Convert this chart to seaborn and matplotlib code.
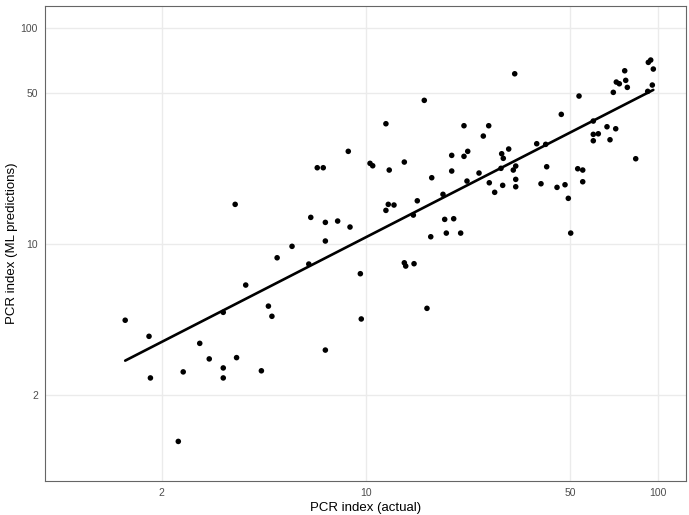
import numpy as np
import pandas as pd
import matplotlib
matplotlib.use("Agg")
import matplotlib.pyplot as plt
import matplotlib.ticker as mticker
import seaborn as sns

# PCR index values
pcr_actual = [
    1.50, 1.81, 1.83, 2.28, 2.37, 2.70, 2.91, 3.25, 3.25, 3.25,
    3.57, 3.61, 3.88, 4.39, 4.64, 4.77, 4.97, 5.59, 6.38, 6.48,
    6.82, 7.15, 7.27, 7.27, 7.27, 8.01, 8.71, 8.83, 9.58, 9.65,
    10.34, 10.56, 11.72, 11.72, 11.94, 12.03, 12.49, 13.55, 13.55, 13.70,
    14.55, 14.63, 15.01, 15.86, 16.20, 16.69, 16.82, 18.38, 18.63, 18.87,
    19.69, 19.69, 20.00, 21.13, 21.69, 21.69, 22.21, 22.34, 24.42, 25.26,
    26.36, 26.48, 27.63, 29.04, 29.20, 29.43, 29.57, 30.86, 32.00, 32.36,
    32.62, 32.62, 32.62, 38.49, 39.81, 41.31, 41.64, 45.17, 46.72, 48.11,
    49.38, 50.32, 53.18, 53.73, 55.32, 55.32, 60.13, 60.13, 60.13, 62.55,
    66.99, 68.60, 70.41, 71.76, 72.10, 73.83, 77.03, 77.65, 78.63, 84.02,
    92.35, 92.80, 94.56, 95.76, 96.52,
]
pcr_predicted = [
    4.44, 3.74, 2.40, 1.22, 2.56, 3.47, 2.94, 4.83, 2.67, 2.40,
    15.27, 2.98, 6.46, 2.59, 5.16, 4.63, 8.64, 9.76, 8.08, 13.29,
    22.56, 22.56, 12.60, 10.33, 3.23, 12.78, 26.87, 11.99, 7.29, 4.50,
    23.64, 23.04, 36.06, 14.32, 15.27, 22.01, 15.16, 23.97, 8.19, 7.91,
    13.62, 8.11, 15.86, 46.27, 5.04, 10.81, 20.28, 16.99, 13.01, 11.24,
    25.74, 21.78, 13.10, 11.24, 25.47, 35.30, 19.57, 26.87, 21.32, 31.62,
    35.30, 19.22, 17.36, 22.42, 26.19, 18.70, 24.94, 27.54, 22.01, 61.42,
    22.97, 19.93, 18.42, 29.14, 19.02, 28.95, 22.80, 18.30, 39.85, 18.82,
    16.28, 11.24, 22.32, 48.44, 22.01, 19.43, 37.11, 32.20, 30.08, 32.40,
    34.92, 30.40, 50.39, 34.18, 56.23, 55.22, 63.42, 57.26, 53.14, 24.83,
    50.93, 69.37, 71.10, 54.47, 64.60,
]
tick_values = [2, 10, 50, 100]

df = pd.DataFrame({"actual": pcr_actual, "predicted": pcr_predicted})

# linear fit on log-log scale (like geom_smooth(method = "lm") with log10 axes)
slope, intercept = np.polyfit(np.log10(df["actual"]), np.log10(df["predicted"]), 1)
fit_x = np.linspace(df["actual"].min(), df["actual"].max(), 200)
fit = pd.DataFrame({"actual": fit_x, "predicted": 10 ** (intercept + slope * np.log10(fit_x))})

sns.set_style("white")
plt.rcParams["font.family"] = ["Liberation Sans", "DejaVu Sans"]

fig = plt.figure(figsize=(6.89, 5.15), dpi=100)
ax = fig.add_axes([45 / 689, 34 / 515, 641 / 689, 475 / 515])

sns.scatterplot(data=df, x="actual", y="predicted", ax=ax, color="black",
                s=16, edgecolor="none", zorder=3)
sns.lineplot(data=fit, x="actual", y="predicted", ax=ax, color="black",
             linewidth=1.9, zorder=4)

ax.set_xscale("log")
ax.set_yscale("log")
ax.set_xlim(0.797, 124.9)
ax.set_ylim(0.80, 126.5)
ax.xaxis.set_major_locator(mticker.FixedLocator(tick_values))
ax.yaxis.set_major_locator(mticker.FixedLocator(tick_values))
ax.xaxis.set_major_formatter(mticker.FixedFormatter([str(t) for t in tick_values]))
ax.yaxis.set_major_formatter(mticker.FixedFormatter([str(t) for t in tick_values]))
ax.xaxis.set_minor_locator(mticker.NullLocator())
ax.yaxis.set_minor_locator(mticker.NullLocator())

ax.grid(True, which="major", color="#EBEBEB", linewidth=1.0)
ax.set_axisbelow(True)
for sp in ax.spines.values():
    sp.set_color("#666666")
    sp.set_linewidth(0.8)
ax.tick_params(axis="both", which="major", direction="out", length=3, width=0.8,
               color="#555555", labelcolor="#4D4D4D", labelsize=7.5, pad=2)

ax.set_xlabel("PCR index (actual)", fontsize=9.5, color="black", labelpad=3)
ax.set_ylabel("PCR index (ML predictions)", fontsize=9.5, color="black", labelpad=2)

fig.savefig("out.png", dpi=100, facecolor="white")
plt.close(fig)
